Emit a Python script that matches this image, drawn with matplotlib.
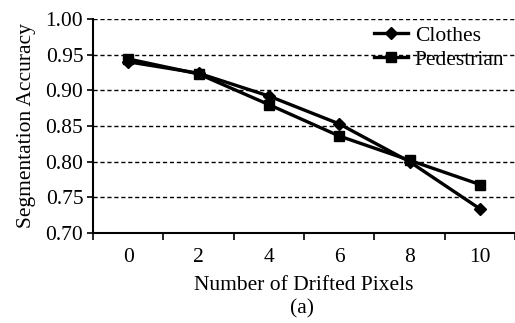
import matplotlib.pyplot as plt
import numpy as np

drift = ["0", "2", "4", "6", "8", "10"]
clothes = [0.940, 0.924, 0.892, 0.853, 0.800, 0.734]
pedestrian = [0.944, 0.923, 0.880, 0.836, 0.802, 0.768]
yticks = [0.70, 0.75, 0.80, 0.85, 0.90, 0.95, 1.00]

plt.rcParams["font.family"] = ["Liberation Serif", "DejaVu Serif"]
fs = 15.5

fig = plt.figure(figsize=(5.15, 3.23), dpi=100)
ax = fig.add_axes([0.1806, 0.2786, 0.8194, 0.6626])

x = np.arange(len(drift))
ax.plot(x, clothes, color="black", lw=2.4, marker="D", ms=6, label="Clothes")
ax.plot(x, pedestrian, color="black", lw=2.4, marker="s", ms=7.5, label="Pedestrian")

ax.set_xlim(-0.5, len(drift) - 0.5)
ax.set_ylim(0.70, 1.00)
ax.set_yticks(yticks)
ax.set_yticklabels(["%.2f" % v for v in yticks], fontsize=fs)
for v in yticks[1:]:
    ax.axhline(v, color="black", lw=1, ls=(0, (3, 2)), zorder=0)

# category ticks sit between the labels
ax.set_xticks(np.arange(len(drift) + 1) - 0.5)
ax.set_xticklabels([])
ax.set_xticks(x, minor=True)
ax.set_xticklabels(drift, minor=True, fontsize=fs)
ax.tick_params(axis="x", which="major", direction="out", length=5, width=1.2)
ax.tick_params(axis="x", which="minor", length=0, pad=11)
ax.tick_params(axis="y", direction="out", length=4, width=1.2, pad=3)

for s in ["top", "right"]:
    ax.spines[s].set_visible(False)
for s in ["left", "bottom"]:
    ax.spines[s].set_linewidth(1.5)

ax.set_ylabel("Segmentation Accuracy", fontsize=fs, labelpad=7)
ax.set_xlabel("Number of Drifted Pixels", fontsize=fs, labelpad=6)
fig.text(0.586, 0.045, "(a)", fontsize=fs, ha="center", va="center")

ax.legend(loc="upper right", frameon=False, fontsize=fs, handlelength=1.6,
          handletextpad=0.3, labelspacing=0.2, borderaxespad=0.1,
          bbox_to_anchor=(1.0, 1.02))

fig.savefig("out.png", dpi=100)
